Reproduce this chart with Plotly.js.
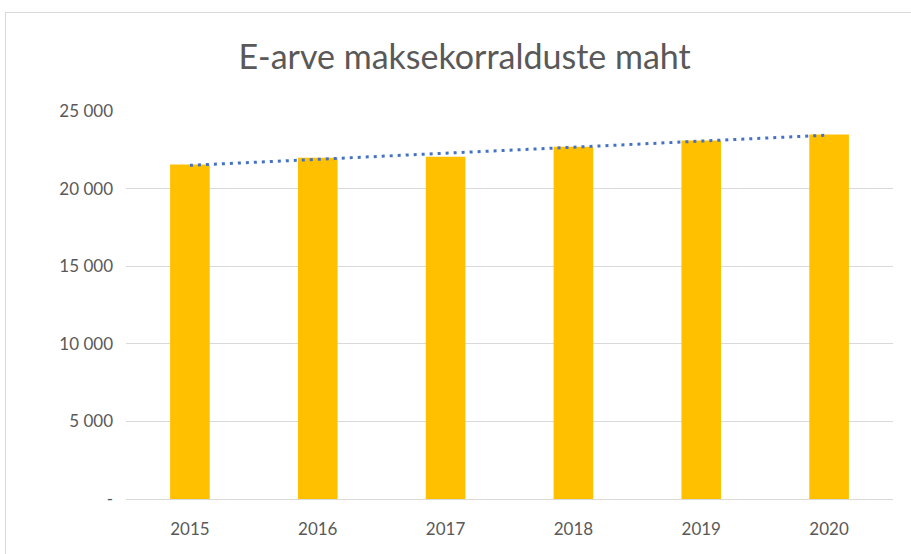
<!DOCTYPE html>
<html><head><meta charset="utf-8">
<script src="https://cdn.plot.ly/plotly-3.0.1.min.js"></script>
<style>
html,body{margin:0;padding:0;background:#fff;overflow:hidden;}
#chart{width:911px;height:554px;position:absolute;left:0;top:0;}
#frame{position:absolute;left:5px;top:12px;width:930px;height:560px;border:1px solid #d9d9d9;pointer-events:none;}
</style></head>
<body>
<div id="chart"></div>
<div id="frame"></div>
<script>
const years = ['2015','2016','2017','2018','2019','2020'];
const volumes = [21550, 21980, 22045, 22690, 23100, 23480];
const yTickVals = [0, 5000, 10000, 15000, 20000, 25000];
const yTickText = ['-', '5 000', '10 000', '15 000', '20 000', '25 000'];

// linear trendline (least squares over category index)
const n = volumes.length;
const idx = volumes.map((_, i) => i + 1);
const mx = idx.reduce((a, b) => a + b, 0) / n;
const my = volumes.reduce((a, b) => a + b, 0) / n;
let sxy = 0, sxx = 0;
idx.forEach((x, i) => { sxy += (x - mx) * (volumes[i] - my); sxx += (x - mx) * (x - mx); });
const slope = sxy / sxx, icpt = my - slope * mx;
const trend = idx.map(x => icpt + slope * x);

const fontFam = 'Lato, "Open Sans", sans-serif';
const data = [
  {type:'bar', x: years, y: volumes, marker:{color:'#FFC000'}, hoverinfo:'x+y'},
  {type:'scatter', mode:'lines', x: years, y: trend,
   line:{color:'#4472C4', width:3, dash:'3px,5px'}, hoverinfo:'skip'}
];
const layout = {
  width:911, height:554,
  margin:{l:126, r:18, t:111, b:55},
  paper_bgcolor:'rgba(0,0,0,0)', plot_bgcolor:'#fff',
  showlegend:false, bargap:0.69,
  title:{text:'E-arve maksekorralduste maht', font:{family:fontFam, size:34, color:'#595959'},
         x:0.51, xanchor:'center', y:0.897, yanchor:'middle'},
  xaxis:{type:'category', showgrid:false, showline:false, zeroline:false, ticks:'',
         tickfont:{family:fontFam, size:17, color:'#595959'}, ticklabelstandoff:18},
  yaxis:{range:[0,25000], tickvals:yTickVals, ticktext:yTickText, showgrid:true,
         gridcolor:'#d9d9d9', gridwidth:1, zeroline:true, zerolinecolor:'#d9d9d9', zerolinewidth:1,
         showline:false, ticks:'', tickfont:{family:fontFam, size:17, color:'#595959'}, ticklabelstandoff:12}
};
Plotly.newPlot('chart', data, layout, {staticPlot:true});
</script>
</body></html>
